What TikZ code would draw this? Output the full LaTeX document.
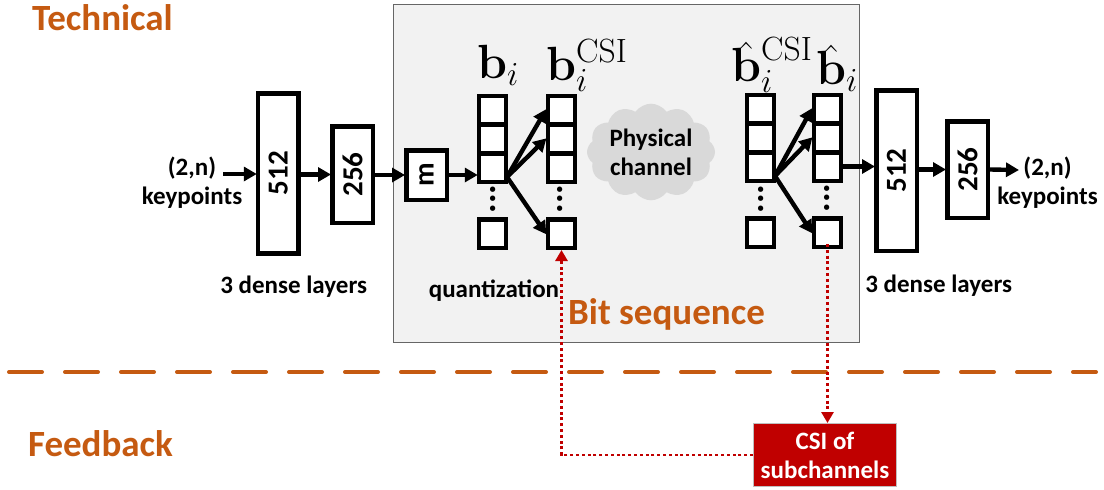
\documentclass[tikz,border=0pt]{standalone}
\usepackage{fix-cm}
\usepackage[no-math]{fontspec}
\setmainfont{Carlito}
\usetikzlibrary{arrows.meta,shapes.symbols}
\newcommand{\fs}[1]{\fontsize{#1}{#1}\selectfont}
\newcommand{\hatb}{{\mathbf{b}\llap{\smash{\raisebox{-7pt}{\(\hat{\phantom{\mathbf{b}}}\)}}}}}
\definecolor{rust}{HTML}{C55A11}
\definecolor{csired}{HTML}{C00000}
\tikzset{
  layerbox/.style={draw,line width=4.5pt,fill=white,inner sep=0pt,minimum height=40.5pt,font=\bfseries\fs{29},rotate=90},
  cellbox/.style={draw,line width=4.5pt,fill=white,inner sep=0pt,minimum width=27pt,minimum height=28.5pt},
  vdotrow/.style={rotate=90,inner sep=0pt,font=\bfseries\fs{36}},
  caption/.style={font=\bfseries\fs{25},align=center,inner sep=0pt},
  heading/.style={font=\bfseries\fs{37},text=rust,inner sep=0pt},
  symbol/.style={anchor=base west,inner sep=0pt,font=\fs{48}},
  flow/.style={line width=4.4pt,-{Triangle[length=13pt,width=14pt]},shorten >=-1pt},
  csilink/.style={csired,line width=2.8pt,dash pattern=on 3pt off 2.8pt,-{Triangle[length=11pt,width=12pt]}}
}
\begin{document}
\begin{tikzpicture}[x=1pt,y=-1pt]
  \useasboundingbox (0,0) rectangle (1104,490);
  % bit sequence panel
  \node (panel) [draw=black!60,line width=1.2pt,fill=black!5,minimum width=466pt,minimum height=338pt,inner sep=0pt] at (626.5,173.5) {};
  \coordinate (sepl) at (9,372);
  \coordinate (sepr) at (1096,372);
  \draw [rust,line width=4pt,line cap=round,dash pattern=on 33pt off 23pt] (sepl) -- (sepr);
  \node (tech) [heading] at (102.5,18) {Technical};
  \node (feed) [heading] at (100.5,444) {Feedback};
  \node (bits) [heading] at (666.5,314) {Bit sequence};
  % encoder
  \node (inlabel) [caption] at (192,183) {(2,n)\\[4pt]keypoints};
  \coordinate (instart) at (223,174);
  \node (enca) [layerbox,minimum width=160pt] at (278.3,173.3) {512};
  \node (encb) [layerbox,minimum width=96.5pt] at (352.5,174.5) {256};
  \node (m) [layerbox,minimum width=49.5pt,font=\bfseries\fs{29}] at (426.5,175) {m};
  \node (encnote) [caption] at (293.7,287) {3 dense layers};
  \node (qnote) [caption] at (494,291) {quantization};
  % b_i
  \node (bia) [cellbox] at (492.5,110) {};
  \node (bib) [cellbox] at (492.5,139) {};
  \node (bic) [cellbox] at (492.5,167.5) {};
  \node (bid) [cellbox] at (492.5,233.5) {};
  \node (bidots) [vdotrow] at (493.5,199) {...};
  \node (bilabel) [symbol] at (477,78) {\(\mathbf{b}_i\)};
  % b_i^CSI
  \node (csia) [cellbox] at (561.5,110) {};
  \node (csib) [cellbox] at (561.5,139) {};
  \node (csic) [cellbox] at (561.5,167.5) {};
  \node (csid) [cellbox] at (561.5,233.5) {};
  \node (csidots) [vdotrow] at (560,199) {...};
  \node (csilabel) [symbol] at (546,80) {\(\mathbf{b}_i^{\mathrm{CSI}}\)};
  \coordinate (fork) at (507,177);
  % channel
  \node (cloud) [cloud,cloud puffs=12,cloud puff arc=110,aspect=1.4,fill=black!15,inner sep=0pt,minimum width=128pt,minimum height=96pt,align=center,font=\bfseries\fs{25}] at (651,152) {Physical\\[4pt]channel};
  % \hat b_i^CSI
  \node (hcsia) [cellbox] at (760.5,109) {};
  \node (hcsib) [cellbox] at (760.5,138) {};
  \node (hcsic) [cellbox] at (760.5,166.5) {};
  \node (hcsid) [cellbox] at (760.5,232.5) {};
  \node (hcsidots) [vdotrow] at (761.5,199) {...};
  \node (hcsilabel) [symbol] at (731,81) {\(\hatb_i^{\mathrm{CSI}}\)};
  % \hat b_i
  \node (hbia) [cellbox] at (827.5,109) {};
  \node (hbib) [cellbox] at (827.5,138) {};
  \node (hbic) [cellbox] at (827.5,166.5) {};
  \node (hbid) [cellbox] at (827.5,232.5) {};
  \node (hbidots) [vdotrow] at (827.5,198) {...};
  \node (hbilabel) [symbol] at (816,84) {\(\hatb_i\)};
  \coordinate (hfork) at (775,176);
  % decoder
  \node (deca) [layerbox,minimum width=160.5pt] at (896.5,170.5) {512};
  \node (decb) [layerbox,minimum width=96.5pt] at (967.5,169.5) {256};
  \coordinate (outend) at (1018,170);
  \node (outlabel) [caption] at (1047.5,182.5) {(2,n)\\[4pt]keypoints};
  \node (decnote) [caption] at (938.7,286) {3 dense layers};
  % feedback
  \node (csi) [draw=black!25,line width=1pt,fill=csired,text=white,minimum width=143pt,minimum height=63pt,inner sep=0pt,align=center,font=\bfseries\fs{25}] at (825,455) {CSI of\\[4pt]subchannels};
  % connectors
  \draw [flow] (instart) -- (instart -| enca.north);
  \draw [flow] (enca.south |- encb) -- (encb.north |- encb);
  \draw [flow] (encb.south |- m) -- (m.north);
  \draw [flow] (m.south) -- (m.south -| bic.west);
  \draw [flow] (fork) -- (csia.west);
  \draw [flow] (fork) -- (csib.west);
  \draw [flow] (fork) -- (csid.west);
  \draw [flow] (hfork) -- (hbia.west);
  \draw [flow] (hfork) -- (hbib.west);
  \draw [flow] (hfork) -- (hbid.west);
  \draw [flow] (hbic.east) -- (hbic.east -| deca.north);
  \draw [flow] (deca.south |- decb) -- (decb.north);
  \draw [flow] (decb.south) -- (outend);
  \draw [csilink] (csi.west) -| (csid.south);
  \draw [csilink] ([yshift=5pt]hbid.south) -- (hbid.south |- csi.north);
\end{tikzpicture}
\end{document}
